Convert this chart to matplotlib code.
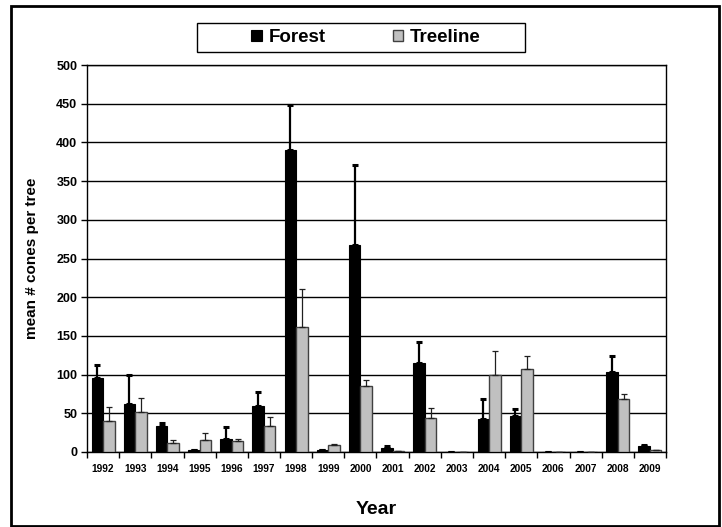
import matplotlib
matplotlib.use("Agg")
import matplotlib.pyplot as plt
import numpy as np
from matplotlib.patches import Rectangle

years = ["1992", "1993", "1994", "1995", "1996", "1997", "1998", "1999", "2000",
         "2001", "2002", "2003", "2004", "2005", "2006", "2007", "2008", "2009"]
forest = [95, 62, 34, 2, 17, 59, 390, 2, 267, 5, 115, 0.5, 42, 47, 0.3, 0.5, 103, 8]
forest_err = [18, 37, 4, 1, 15, 19, 58, 1, 104, 3, 27, 0, 27, 9, 0, 0, 21, 1]
treeline = [40, 52, 12, 15, 14, 34, 162, 9, 85, 1, 44, 0.3, 99, 107, 0.3, 0.3, 69, 2.5]
treeline_err = [18, 18, 4, 9, 3, 11, 49, 1, 8, 0, 13, 0, 32, 17, 0, 0, 6, 0]
yticks = [0, 50, 100, 150, 200, 250, 300, 350, 400, 450, 500]

plt.rcParams['font.family'] = ['Liberation Sans', 'DejaVu Sans']
plt.rcParams['font.weight'] = 'bold'

fig = plt.figure(figsize=(7.22, 5.27), dpi=100)
W, H = 722, 527
ax = fig.add_axes([87 / W, 1 - 452 / H, (666 - 87) / W, (452 - 65) / H])

x = np.arange(len(years))
bw = 0.36
ax.set_axisbelow(True)
ax.grid(axis='y', color='black', linewidth=1.0)
ax.bar(x - bw / 2, forest, bw, color='black', edgecolor='black', linewidth=0.8,
       yerr=[np.zeros(len(years)), forest_err],
       error_kw=dict(ecolor='black', elinewidth=1.6, capsize=2.5, capthick=2.2),
       label='Forest', zorder=3)
ax.bar(x + bw / 2, treeline, bw, color='#c0c0c0', edgecolor='#404040', linewidth=1.0,
       yerr=[np.zeros(len(years)), treeline_err],
       error_kw=dict(ecolor='#202020', elinewidth=0.9, capsize=2.5, capthick=0.9),
       label='Treeline', zorder=3)

ax.set_xlim(-0.5, len(years) - 0.5)
ax.set_ylim(0, 500)
ax.set_yticks(yticks)
ax.set_yticklabels([str(v) for v in yticks], fontsize=9, fontweight='bold')
ax.set_xticks(x)
ax.set_xticklabels(years, fontsize=7.3, fontweight='bold')
ax.tick_params(axis='x', which='major', length=0, pad=9)
ax.set_xticks(np.arange(-0.5, len(years) + 0.5, 1), minor=True)
ax.tick_params(axis='x', which='minor', length=4, width=1, direction='out')
ax.tick_params(axis='y', length=4, width=1, direction='out', pad=3)
for s in ax.spines.values():
    s.set_color('black')
    s.set_linewidth(1.0)

ax.set_ylabel('mean # cones per tree', fontsize=11, fontweight='bold', labelpad=12)
ax.set_xlabel('Year', fontsize=14, fontweight='bold', labelpad=19)

# legend frame
fig.patches.append(Rectangle((197 / W, 1 - 52 / H), (525 - 197) / W, (52 - 23) / H,
                             transform=fig.transFigure, fill=False, edgecolor='black',
                             linewidth=1.0))
handles, labels = ax.get_legend_handles_labels()
leg = fig.legend(handles, labels, loc='center', bbox_to_anchor=(366 / W, 1 - 37.5 / H),
                 ncol=2, frameon=False, prop=dict(weight='bold', size=13.5),
                 handlelength=0.55, handleheight=0.55, handletextpad=0.35, columnspacing=3.6)

# outer chart border
fig.patches.append(Rectangle((11 / W, 1 / H), (719 - 11) / W, (521 - 1) / H,
                             transform=fig.transFigure, fill=False, edgecolor='black',
                             linewidth=2.0))

fig.savefig('out.png', dpi=100)
